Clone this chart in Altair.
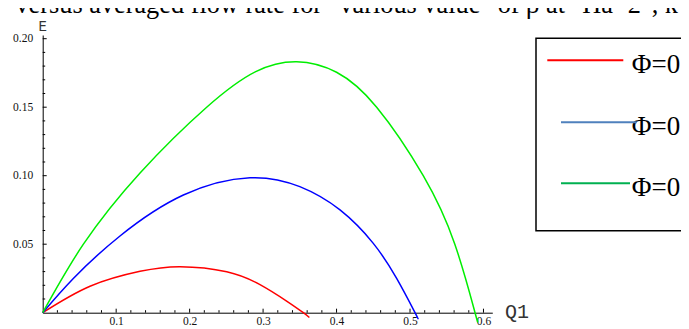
import altair as alt
import pandas as pd

# ---- data ----
red_q = [0, 0.0644, 0.1325, 0.187, 0.2505, 0.2958, 0.332, 0.3548, 0.363]
red_e = [0, 0.0193, 0.0302, 0.0336, 0.0299, 0.0205, 0.0085, 0.0, -0.0035]

blue_q = [0, 0.0417, 0.1052, 0.1915, 0.2822, 0.350, 0.4047, 0.450, 0.4818, 0.5068, 0.5105]
blue_e = [0, 0.025, 0.056, 0.0859, 0.0985, 0.092, 0.075, 0.0506, 0.025, 0.0, -0.004]

green_q = [0, 0.0554, 0.1325, 0.2232, 0.2900, 0.3457, 0.400, 0.4546, 0.518, 0.561, 0.5885, 0.591]
green_e = [0, 0.05, 0.102, 0.150, 0.1760, 0.1832, 0.1755, 0.150, 0.100, 0.050, 0.0, -0.004]

series_names = ["red", "blue", "green"]
curve_colors = ["#ff0000", "#0000ff", "#00ee00"]

legend_labels = ["Φ=0.1", "Φ=0.4", "Φ=0.2"]
legend_colors = ["#ff0000", "#4f81bd", "#00b050"]

x_major = [0.1, 0.2, 0.3, 0.4, 0.5, 0.6]
x_minor = [0.02, 0.04, 0.06, 0.08, 0.12, 0.14, 0.16, 0.18, 0.22, 0.24, 0.26, 0.28,
           0.32, 0.34, 0.36, 0.38, 0.42, 0.44, 0.46, 0.48, 0.52, 0.54, 0.56, 0.58]
y_major = [0.05, 0.10, 0.15, 0.20]
y_minor = [0.01, 0.02, 0.03, 0.04, 0.06, 0.07, 0.08, 0.09, 0.11, 0.12, 0.13, 0.14,
           0.16, 0.17, 0.18, 0.19]

title_text = "y versus averaged flow rate for \"various value\" of β at \"Ha=2\", k="

# ---- layout ----
W = 449.6
H = 277.7
X_DOMAIN = [0, 0.612]
Y_DOMAIN = [0, 0.2027]

rows = []
for name, qs, es in [("red", red_q, red_e), ("blue", blue_q, blue_e), ("green", green_q, green_e)]:
    for q, e in zip(qs, es):
        rows.append({"Q1": q, "E": e, "series": name})
df = pd.DataFrame(rows)

xs = alt.Scale(domain=X_DOMAIN, nice=False, zero=False)
ys = alt.Scale(domain=Y_DOMAIN, nice=False, zero=False)

x_axis = alt.Axis(values=x_major, format=".1f", ticks=False, grid=False, title=None,
                  domainColor="#000", domainWidth=1, labelFont="Liberation Serif",
                  labelFontSize=11.5, labelColor="#111", labelPadding=3,
                  labelFlush=False, labelOverlap=False)
y_axis = alt.Axis(values=y_major, format=".2f", ticks=False, grid=False, title=None,
                  domainColor="#000", domainWidth=1, labelFont="Liberation Serif",
                  labelFontSize=11.5, labelColor="#111", labelPadding=10,
                  labelFlush=False, labelOverlap=False)

lines = alt.Chart(df).mark_line(strokeWidth=1.5, interpolate="natural", clip=False).encode(
    x=alt.X("Q1:Q", scale=xs, axis=x_axis),
    y=alt.Y("E:Q", scale=ys, axis=y_axis),
    color=alt.Color("series:N", scale=alt.Scale(domain=series_names, range=curve_colors), legend=None),
    detail="series:N",
)

def xticks(vals, length):
    return alt.Chart(pd.DataFrame({"v": vals})).mark_rule(color="#000", strokeWidth=1).encode(
        x=alt.X("v:Q", scale=xs, axis=x_axis),
        y=alt.value(H), y2=alt.value(H - length))

def yticks(vals, length):
    return alt.Chart(pd.DataFrame({"v": vals})).mark_rule(color="#000", strokeWidth=1).encode(
        y=alt.Y("v:Q", scale=ys, axis=y_axis),
        x=alt.value(0), x2=alt.value(length))

title = alt.Chart(pd.DataFrame({"t": [title_text]})).mark_text(
    font="Liberation Serif", fontSize=26.3, align="left", baseline="alphabetic", color="#000"
).encode(text="t:N", x=alt.value(-47), y=alt.value(-22.3))

elabel = alt.Chart(pd.DataFrame({"t": ["E"]})).mark_text(
    font="Liberation Mono", fontSize=14, align="center", baseline="middle", color="#333"
).encode(text="t:N", x=alt.value(0), y=alt.value(-8))

qlabel = alt.Chart(pd.DataFrame({"t": ["Q1"]})).mark_text(
    font="Liberation Mono", fontSize=20, align="left", baseline="alphabetic", color="#333"
).encode(text="t:N", x=alt.value(462.3), y=alt.value(283))

box = alt.Chart(pd.DataFrame({"a": [0]})).mark_rect(
    fill="#fff", stroke="#000", strokeWidth=1.5
).encode(x=alt.value(493.3), x2=alt.value(720), y=alt.value(3.3), y2=alt.value(195.7))

legend_layers = []
line_pos = [(504.6, 580.6, 25.3), (518.3, 594.0, 87.3), (518.3, 587.3, 148.3)]
text_base = [38.3, 100.0, 161.0]
for lab, col, (x1, x2, yy), tb in zip(legend_labels, legend_colors, line_pos, text_base):
    legend_layers.append(
        alt.Chart(pd.DataFrame({"t": [lab]})).mark_text(
            font="Liberation Serif", fontSize=27, align="left", baseline="alphabetic", color="#000"
        ).encode(text="t:N", x=alt.value(589), y=alt.value(tb)))
    legend_layers.append(
        alt.Chart(pd.DataFrame({"a": [0]})).mark_rule(color=col, strokeWidth=2).encode(
            x=alt.value(x1), x2=alt.value(x2), y=alt.value(yy)))

chart = alt.layer(
    lines, xticks(x_major, 4), xticks(x_minor, 2.5), yticks(y_major, 4), yticks(y_minor, 2.5),
    title, elabel, qlabel, box, *legend_layers
).properties(
    width=W, height=H,
    autosize=alt.AutoSizeParams(type="none"),
    padding={"left": 34.7, "top": 27, "right": 188.7, "bottom": 16.3},
).configure_view(stroke=None)

chart.save("out.html", embed_options={"renderer": "svg", "actions": False})
